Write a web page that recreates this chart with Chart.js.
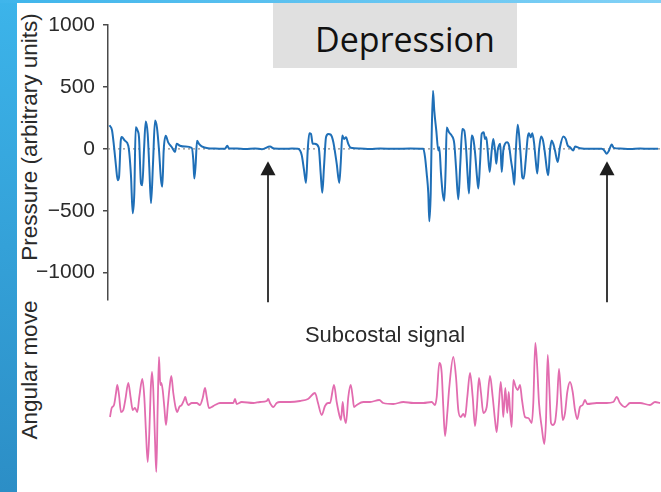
<!DOCTYPE html>
<html>
<head>
<meta charset="utf-8">
<script src="https://cdn.jsdelivr.net/npm/chart.js@4.4.1/dist/chart.umd.min.js"></script>
<style>
  body { margin: 0; width: 661px; height: 492px; position: relative; overflow: hidden; background: #fff;
         font-family: "Liberation Sans", Arial, sans-serif; color: #2a2a2a; }
  #edge { position: absolute; left: 0; top: 0; width: 17px; height: 492px; background: linear-gradient(#3cb4ea, #2c8ec6); }
  #band { position: absolute; left: 0; top: 0; width: 661px; height: 3px; background: linear-gradient(90deg, #3fb5eb, #82d1f6); }
  #head { position: absolute; left: 273px; top: 3px; width: 244px; height: 65px; background: #e0e0e0; }
  #head span { position: absolute; left: 0; top: 19px; width: 264px; text-align: center; font-family: "Open Sans", sans-serif;
               font-size: 34px; line-height: 34px; color: #111; }
  .vt { position: absolute; width: 300px; height: 24px; line-height: 24px; text-align: center; font-size: 22.5px;
        transform: rotate(-90deg); white-space: nowrap; }
  #subcostal { position: absolute; left: 285px; top: 322px; width: 200px; text-align: center; font-size: 22px; white-space: nowrap; }
  canvas { position: absolute; left: 0; }
</style>
</head>
<body>
<div id="edge"></div>
<div id="band"></div>
<div id="head"><span>Depression</span></div>
<div class="vt" style="left:-120px; top:125px;">Pressure (arbitrary units)</div>
<div class="vt" style="left:-120px; top:358px;">Angular move</div>
<canvas id="pressure" width="661" height="320" style="top:0"></canvas>
<canvas id="move" width="661" height="162" style="top:330px"></canvas>
<div id="subcostal">Subcostal signal</div>
<script>
// time in seconds, pressure in arbitrary units
const pressureT = [
  0.15, 0.4, 0.6, 0.8, 0.97, 1.1, 1.27, 1.37, 1.7, 2.03,
  2.3, 2.47, 2.63, 2.77, 2.97, 3.1, 3.3, 3.43, 3.6, 3.77,
  3.97, 4.13, 4.3, 4.5, 4.7, 4.9, 5.1, 5.3, 5.43, 5.57,
  5.77, 6.03, 6.37, 6.7, 6.87, 7.2, 7.7, 8.37, 8.53, 8.63,
  8.77, 8.9, 9.1, 9.37, 10.0, 10.7, 11.7, 11.93, 12.1, 12.9,
  13.7, 14.7, 15.4, 16.2, 16.6, 17.7, 18.4, 19.0, 19.37, 19.6,
  19.8, 19.97, 20.13, 20.3, 20.47, 20.67, 21.07, 21.27, 21.43, 21.6,
  21.8, 22.03, 22.27, 22.53, 22.87, 23.13, 23.27, 23.43, 23.6, 23.8,
  24.03, 24.27, 25.2, 26.2, 27.2, 28.7, 30.2, 31.53, 31.7, 31.87,
  32.03, 32.13, 32.27, 32.37, 32.5, 32.63, 32.83, 33.03, 33.13, 33.3,
  33.47, 33.63, 33.77, 33.87, 34.1, 34.37, 34.63, 34.8, 35.03, 35.23,
  35.43, 35.63, 35.8, 35.97, 36.1, 36.23, 36.37, 36.53, 36.7, 36.9,
  37.03, 37.2, 37.37, 37.57, 37.7, 37.83, 37.97, 38.17, 38.37, 38.53,
  38.7, 38.83, 38.97, 39.1, 39.23, 39.37, 39.53, 39.7, 39.9, 40.1,
  40.3, 40.5, 40.63, 40.77, 40.97, 41.1, 41.3, 41.43, 41.57, 41.77,
  41.97, 42.1, 42.27, 42.43, 42.6, 42.77, 42.93, 43.1, 43.3, 43.5,
  43.7, 43.9, 44.03, 44.2, 44.37, 44.53, 44.7, 44.97, 45.2, 45.53,
  45.77, 45.97, 46.2, 46.53, 46.7, 47.2, 48.2, 49.37, 49.63, 49.87,
  50.1, 50.37, 50.57, 51.2, 52.2, 53.2, 54.2, 55.0
];
const pressure = [
  190, 150, 20, -140, -253, -230, 60, 95, 65, 25,
  -220, -520, -360, 175, 145, 95, -280, -295, -10, 220,
  120, -150, -440, -120, 228, 170, -10, -250, -305, -10,
  105, 50, 15, -25, 40, 25, 18, 8, -90, -240,
  -120, 65, 40, 20, 5, 3, 0, 25, 3, 2,
  -2, 3, -3, 18, 2, 0, 2, 0, -50, -170,
  -275, -15, 125, 120, 40, 40, 12, -200, -355, -145,
  93, 120, 115, 55, -120, -275, -120, 107, 80, 93,
  40, 8, 2, -2, 2, 0, 3, 0, -65, -200,
  -360, -585, -360, 120, 470, 307, 147, -13, 13, -200,
  -360, -420, -147, 173, 133, 107, 40, -147, -408, -120,
  160, 147, 13, -227, -360, -120, 107, 80, -27, -227,
  -320, -120, 120, 133, 80, 93, -13, -187, -13, 80,
  -13, -120, -13, 27, 40, -187, -13, 40, 53, 27,
  -93, -200, -290, -40, 195, 120, -93, -230, -240, -93,
  93, 125, 93, 125, 53, -93, -200, -13, 100, 67,
  -40, -173, -213, -13, 67, 40, -13, -107, 13, 100,
  80, 27, 13, -13, 18, 5, 0, 0, -13, -40,
  -13, 35, 8, 2, -2, 2, 0, 0
];

// subcostal angular movement, same time base
const moveT = [
  0.2, 0.37, 0.6, 0.8, 0.93, 1.1, 1.3, 1.53, 1.73, 2.03,
  2.27, 2.47, 2.7, 2.93, 3.13, 3.43, 3.63, 3.8, 3.97, 4.13,
  4.27, 4.4, 4.53, 4.7, 4.83, 4.97, 5.1, 5.23, 5.33, 5.47,
  5.63, 5.8, 5.97, 6.13, 6.33, 6.53, 6.77, 6.93, 7.13, 7.37,
  7.6, 7.73, 7.87, 8.03, 8.37, 8.87, 9.2, 9.47, 9.7, 9.87,
  10.1, 10.37, 10.7, 11.2, 11.87, 12.53, 12.7, 12.87, 13.37, 14.53,
  15.2, 15.87, 16.03, 16.2, 16.53, 16.87, 17.2, 18.2, 19.2, 20.0,
  20.7, 21.0, 21.37, 21.7, 22.0, 22.2, 22.6, 22.87, 23.13, 23.3,
  23.47, 23.6, 23.8, 24.03, 24.27, 24.47, 24.6, 24.87, 25.53, 26.2,
  27.13, 27.53, 28.53, 29.53, 30.53, 31.53, 32.37, 32.7, 32.87, 33.13,
  33.37, 33.53, 33.7, 33.93, 34.13, 34.53, 34.8, 35.03, 35.27, 35.53,
  35.7, 35.93, 36.2, 36.47, 36.7, 36.87, 37.1, 37.3, 37.53, 37.87,
  38.2, 38.47, 38.7, 38.87, 39.1, 39.27, 39.43, 39.53, 39.73, 39.93,
  40.07, 40.2, 40.37, 40.53, 40.77, 40.97, 41.2, 41.4, 41.7, 42.03,
  42.37, 42.53, 42.73, 42.9, 43.1, 43.37, 43.63, 43.8, 43.97, 44.13,
  44.3, 44.47, 44.7, 44.9, 45.1, 45.3, 45.47, 45.7, 45.93, 46.2,
  46.47, 46.7, 46.93, 47.2, 47.47, 47.7, 47.93, 48.87, 49.87, 50.53,
  50.87, 51.2, 51.7, 52.2, 53.2, 54.2, 54.7, 55.2
];
const angularMove = [
  -14, -5, -2, 10, 18, 8, -9, -7, 3, 20,
  5, -7, -5, -9, 6, 24, 6, -30, -59, -30,
  13, 31, 13, -37, -69, -4, 46, 18, 20, 13,
  -4, -22, -4, 13, 27, 10, -5, -9, -4, -2,
  3, 6, 1, -2, 0, 0, -2, 5, 15, 6,
  -5, -4, -2, 0, 0, 0, 4, -1, 1, 0,
  1, 2, 4, 0, -4, 0, 1, 1, 2, 4,
  10, 0, -12, -3, 0, 0, 18, 1, -12, -17,
  1, -12, -20, 6, 18, 6, -4, -2, 1, 1,
  3, 0, -1, 1, 0, 0, 1, -2, 6, 40,
  30, -4, -33, -10, 16, 46, 26, -7, -14, -11,
  -14, 6, 30, 6, -23, -7, 25, 10, -10, -4,
  27, 6, -17, -29, 0, 21, 3, -14, 15, -10,
  11, -7, -24, 23, 16, 13, 18, 3, -14, -15,
  -20, 0, 60, 40, 0, -24, -41, -17, 48, 16,
  -20, -22, -19, 0, 34, 6, -17, -10, 11, 21,
  11, -7, -16, -4, -2, 3, -1, 0, 0, 1,
  6, 0, -4, 0, 0, -2, 1, 0
];

const yTicks = [-1000, -500, 0, 500, 1000];
const arrowT = [16.0, 49.9];     // marked events
const arrowTip = -100;
const arrowTail = -1240;
const tEnd = 55.3;

const toPoints = (ts, vs) => ts.map((t, i) => ({ x: t, y: vs[i] }));

const arrows = {
  id: 'arrows',
  afterDatasetsDraw(chart) {
    const { ctx, scales: { x, y } } = chart;
    ctx.save();
    ctx.strokeStyle = '#3a3a3a';
    ctx.fillStyle = '#1e1e1e';
    ctx.lineWidth = 2;
    arrowT.forEach(t => {
      const px = x.getPixelForValue(t);
      const tip = y.getPixelForValue(arrowTip);
      const tail = y.getPixelForValue(arrowTail);
      ctx.beginPath();
      ctx.moveTo(px, tail);
      ctx.lineTo(px, tip + 10);
      ctx.stroke();
      ctx.beginPath();
      ctx.moveTo(px, tip);
      ctx.lineTo(px - 7.5, tip + 14);
      ctx.lineTo(px + 7.5, tip + 14);
      ctx.closePath();
      ctx.fill();
    });
    ctx.restore();
  }
};

new Chart(document.getElementById('pressure'), {
  type: 'line',
  data: {
    datasets: [
      {
        data: toPoints(pressureT, pressure),
        borderColor: '#1f6fb7',
        borderWidth: 2,
        pointRadius: 0,
        cubicInterpolationMode: 'monotone',
        order: 1
      },
      {
        data: [{ x: 0, y: 0 }, { x: tEnd, y: 0 }],
        borderColor: '#8c8c8c',
        borderWidth: 1.3,
        borderDash: [2, 3],
        pointRadius: 0,
        order: 2
      }
    ]
  },
  options: {
    responsive: false,
    animation: false,
    layout: { padding: { top: 25, right: 0, bottom: 18, left: 0 } },
    plugins: { legend: { display: false }, tooltip: { enabled: false } },
    scales: {
      x: { type: 'linear', min: 0, max: tEnd, display: false },
      y: {
        min: -1216,
        max: 1000,
        afterBuildTicks: s => { s.ticks = yTicks.map(v => ({ value: v })); },
        afterFit: s => { s.width = 108; },
        grid: { drawOnChartArea: false, tickLength: 5, color: '#4a4a4a', lineWidth: 1.5 },
        border: { color: '#4a4a4a', width: 1.5 },
        ticks: {
          padding: 8,
          color: '#2a2a2a',
          font: { family: 'Liberation Sans', size: 21 },
          callback: v => v < 0 ? '\u2212' + Math.abs(v) : String(v)
        }
      }
    }
  },
  plugins: [arrows]
});

new Chart(document.getElementById('move'), {
  type: 'line',
  data: {
    datasets: [{
      data: toPoints(moveT, angularMove),
      borderColor: '#e26caf',
      borderWidth: 1.8,
      pointRadius: 0,
      cubicInterpolationMode: 'monotone'
    }]
  },
  options: {
    responsive: false,
    animation: false,
    layout: { padding: { top: 0, right: 0, bottom: 0, left: 108 } },
    plugins: { legend: { display: false }, tooltip: { enabled: false } },
    scales: {
      x: { type: 'linear', min: 0, max: tEnd, display: false },
      y: { min: -89, max: 73, display: false }
    }
  }
});
</script>
</body>
</html>
